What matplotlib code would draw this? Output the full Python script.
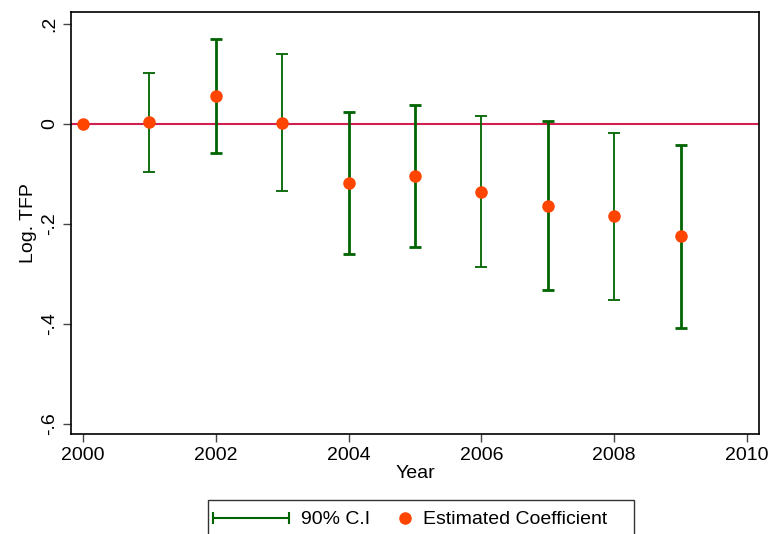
import matplotlib

matplotlib.use("Agg")
import matplotlib.pyplot as plt
from matplotlib.lines import Line2D
from matplotlib.legend_handler import HandlerLine2D

plt.rcParams["font.family"] = ["Liberation Sans", "DejaVu Sans"]

# Data
years = [2000, 2001, 2002, 2003, 2004, 2005, 2006, 2007, 2008, 2009]
coef = [0.0, 0.003, 0.056, 0.001, -0.119, -0.105, -0.136, -0.164, -0.185, -0.225]
ci_low = [None, -0.096, -0.058, -0.134, -0.261, -0.247, -0.287, -0.333, -0.353, -0.409]
ci_high = [None, 0.102, 0.170, 0.139, 0.024, 0.038, 0.015, 0.005, -0.018, -0.042]
x_ticks = [2000, 2002, 2004, 2006, 2008, 2010]
y_ticks = [-0.6, -0.4, -0.2, 0.0, 0.2]
y_labels = ["-.6", "-.4", "-.2", "0", ".2"]

GREEN = "#006400"
ORANGE = "#FF4500"
ZERO = "#D02050"
FS = 14
# bars render with alternating stroke weights in the original
thick = {2002, 2004, 2005, 2007, 2009}


class LowHandler(HandlerLine2D):
    # nudge legend handles down a little so they sit on the text middle
    def create_artists(self, legend, orig_handle, xdescent, ydescent, width, height, fontsize, trans):
        return super().create_artists(legend, orig_handle, xdescent, ydescent + 4,
                                      width, height, fontsize, trans)


class RightDot(LowHandler):
    # single marker sits at the middle of xdata, so push it to the right end
    def get_xdata(self, legend, xdescent, ydescent, width, height, fontsize):
        return [-xdescent + width - 8.6, -xdescent + width], None


fig = plt.figure(figsize=(7.71, 5.34), dpi=100)
ax = fig.add_axes([71 / 771, 100 / 534, 688 / 771, 422 / 534])

ax.axhline(0, color=ZERO, lw=1.5, zorder=1)

for yr, c, lo, hi in zip(years, coef, ci_low, ci_high):
    if lo is None:
        continue
    lw = 2.0 if yr in thick else 1.3
    ax.errorbar([yr], [c], yerr=[[c - lo], [hi - c]], fmt="none", ecolor=GREEN,
                elinewidth=lw, capsize=4.5, capthick=lw, zorder=2)

ax.plot(years, coef, "o", color=ORANGE, ms=8, zorder=3)

ax.set_xlim(1999.82, 2010.18)
ax.set_ylim(-0.621, 0.224)
ax.set_xticks(x_ticks)
ax.set_yticks(y_ticks)
ax.set_yticklabels(y_labels, rotation=90, va="center")
ax.tick_params(axis="both", labelsize=FS, length=6, width=1, color="#444444", direction="out")
ax.tick_params(axis="x", pad=3)
ax.set_xlabel("Year", fontsize=FS, labelpad=1)
ax.set_ylabel("Log. TFP", fontsize=FS, labelpad=3)
for s in ax.spines.values():
    s.set_linewidth(1.2)
    s.set_color("black")

ci_handle = Line2D([], [], color=GREEN, lw=1.5, marker="|", ms=9, mew=1.5)
pt_handle = Line2D([], [], color=ORANGE, lw=0, marker="o", ms=8)
leg = fig.legend([ci_handle, pt_handle], ["90% C.I", "Estimated Coefficient    "],
                 loc="upper center", bbox_to_anchor=(421 / 771, 1 - 500 / 534),
                 borderaxespad=0, ncol=2, fontsize=FS, frameon=True, fancybox=False,
                 edgecolor="black", handlelength=3.86, columnspacing=-1.75,
                 borderpad=0.3, handletextpad=0.62, handleheight=1.45,
                 handler_map={ci_handle: LowHandler(numpoints=2, marker_pad=0),
                              pt_handle: RightDot()})
leg.get_frame().set_linewidth(1.0)

fig.savefig("out.png", dpi=100)
